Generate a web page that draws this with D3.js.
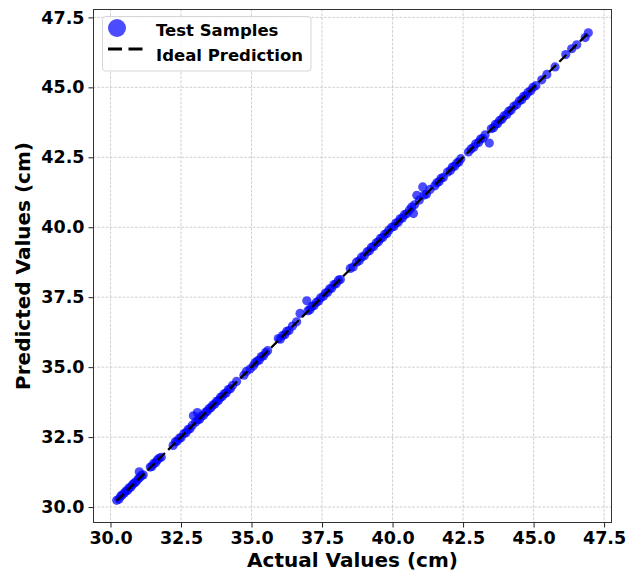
<!DOCTYPE html>
<html>
<head>
<meta charset="utf-8">
<script src="https://cdn.jsdelivr.net/npm/d3@7"></script>
<style>
  body { margin: 0; background: #fff; }
  text { font-family: "DejaVu Sans", sans-serif; font-weight: bold; }
</style>
</head>
<body>
<div id="chart"></div>
<script>
// Actual measured values (cm)
const actualValues = [
  30.22, 30.30, 30.36, 30.41, 30.49, 30.55, 30.61, 30.66, 30.72, 30.78,
  30.84, 30.91, 30.98, 31.02, 31.04, 31.10, 31.16, 31.41, 31.47, 31.53,
  31.60, 31.66, 31.72, 31.80, 32.22, 32.30, 32.36, 32.44, 32.50, 32.60,
  32.68, 32.75, 32.82, 32.90, 32.94, 33.02, 33.08, 33.10, 33.16, 33.22,
  33.30, 33.37, 33.43, 33.50, 33.56, 33.62, 33.70, 33.76, 33.83, 33.90,
  33.96, 34.03, 34.10, 34.18, 34.25, 34.33, 34.47, 34.73, 34.82, 34.95,
  35.06, 35.12, 35.20, 35.28, 35.35, 35.42, 35.50, 35.57, 35.95, 36.02,
  36.10, 36.18, 36.25, 36.33, 36.45, 36.60, 36.72, 36.96, 37.00, 37.07,
  37.14, 37.22, 37.30, 37.38, 37.45, 37.55, 37.62, 37.70, 37.77, 37.84,
  37.92, 38.00, 38.08, 38.15, 38.50, 38.60, 38.72, 38.82, 38.90, 39.00,
  39.10, 39.18, 39.25, 39.33, 39.42, 39.50, 39.57, 39.65, 39.72, 39.80,
  39.87, 39.97, 40.05, 40.12, 40.20, 40.27, 40.35, 40.42, 40.50, 40.60,
  40.68, 40.74, 40.78, 40.86, 40.95, 41.07, 41.12, 41.20, 41.33, 41.50,
  41.57, 41.65, 41.72, 41.80, 41.95, 42.05, 42.12, 42.20, 42.28, 42.35,
  42.42, 42.69, 42.78, 42.88, 42.95, 43.05, 43.12, 43.20, 43.28, 43.43,
  43.50, 43.58, 43.65, 43.72, 43.80, 43.88, 43.95, 44.05, 44.12, 44.20,
  44.30, 44.40, 44.50, 44.58, 44.65, 44.72, 44.80, 44.90, 44.98, 45.08,
  45.29, 45.47, 45.76, 46.14, 46.35, 46.53, 46.83, 46.94
];

// Model predictions (cm), same order as actualValues
const predictedValues = [
  30.24, 30.28, 30.39, 30.43, 30.50, 30.57, 30.60, 30.69, 30.71, 30.80,
  30.86, 30.90, 31.00, 31.26, 31.06, 31.13, 31.15, 31.43, 31.45, 31.56,
  31.58, 31.68, 31.74, 31.78, 32.20, 32.33, 32.35, 32.46, 32.48, 32.62,
  32.66, 32.77, 32.80, 32.92, 33.26, 33.04, 33.38, 33.12, 33.14, 33.25,
  33.28, 33.39, 33.42, 33.52, 33.55, 33.64, 33.68, 33.78, 33.81, 33.92,
  33.95, 34.05, 34.08, 34.20, 34.23, 34.35, 34.49, 34.71, 34.85, 34.93,
  35.04, 35.15, 35.22, 35.26, 35.38, 35.40, 35.52, 35.59, 36.02, 36.00,
  36.13, 36.16, 36.28, 36.31, 36.47, 36.62, 36.92, 37.37, 37.02, 37.05,
  37.17, 37.20, 37.32, 37.36, 37.48, 37.53, 37.65, 37.68, 37.80, 37.82,
  37.95, 37.98, 38.11, 38.13, 38.53, 38.58, 38.75, 38.80, 38.93, 38.98,
  39.12, 39.16, 39.28, 39.31, 39.44, 39.48, 39.60, 39.63, 39.75, 39.78,
  39.90, 40.00, 40.03, 40.15, 40.18, 40.30, 40.33, 40.45, 40.48, 40.62,
  40.72, 40.49, 40.80, 41.14, 40.97, 41.44, 41.15, 41.18, 41.35, 41.48,
  41.59, 41.63, 41.75, 41.78, 41.97, 42.03, 42.15, 42.18, 42.30, 42.33,
  42.45, 42.69, 42.80, 42.86, 42.98, 43.03, 43.15, 43.18, 43.30, 43.01,
  43.52, 43.56, 43.68, 43.70, 43.82, 43.86, 43.98, 44.03, 44.15, 44.18,
  44.32, 44.38, 44.52, 44.56, 44.68, 44.70, 44.82, 44.88, 45.00, 45.06,
  45.27, 45.46, 45.73, 46.17, 46.38, 46.52, 46.78, 46.95
];

// Tick values shared by both axes
const tickValues = [30.0, 32.5, 35.0, 37.5, 40.0, 42.5, 45.0, 47.5];

const legendLabels = ["Test Samples", "Ideal Prediction"];

const width = 635, height = 572;
const plot = { left: 93, right: 612, top: 9, bottom: 523 };

const points = actualValues.map((a, i) => ({ actual: a, predicted: predictedValues[i] }));

// Scales
let xScale = d3.scaleLinear().domain([29.38, 47.78]).range([plot.left, plot.right]);
let yScale = d3.scaleLinear().domain([29.43, 47.8]).range([plot.bottom, plot.top]);

let svg = d3.select("#chart")
  .append("svg")
  .attr("width", width)
  .attr("height", height);

// Grid lines
let grid = svg.append("g")
  .attr("stroke", "#bdbdbd")
  .attr("stroke-width", 0.7)
  .attr("stroke-dasharray", "2.8,1.4");

grid.selectAll(".vgrid")
  .data(tickValues)
  .enter().append("line")
  .attr("x1", d => xScale(d)).attr("x2", d => xScale(d))
  .attr("y1", plot.top).attr("y2", plot.bottom);

grid.selectAll(".hgrid")
  .data(tickValues)
  .enter().append("line")
  .attr("x1", plot.left).attr("x2", plot.right)
  .attr("y1", d => yScale(d)).attr("y2", d => yScale(d));

// Scatter points
svg.append("g")
  .selectAll("circle")
  .data(points)
  .enter().append("circle")
  .attr("cx", d => xScale(d.actual))
  .attr("cy", d => yScale(d.predicted))
  .attr("r", 4.6)
  .attr("fill", "blue")
  .attr("fill-opacity", 0.7);

// Ideal prediction line
let ext = d3.extent(actualValues);
svg.append("line")
  .attr("x1", xScale(ext[0])).attr("y1", yScale(ext[0]))
  .attr("x2", xScale(ext[1])).attr("y2", yScale(ext[1]))
  .attr("stroke", "black")
  .attr("stroke-width", 2.3)
  .attr("stroke-dasharray", "10,4.5");

// Axes
let xAxis = svg.append("g")
  .attr("transform", `translate(0,${plot.bottom})`)
  .call(d3.axisBottom(xScale).tickValues(tickValues).tickFormat(d3.format(".1f"))
    .tickSize(4.5).tickPadding(4));

let yAxis = svg.append("g")
  .attr("transform", `translate(${plot.left},0)`)
  .call(d3.axisLeft(yScale).tickValues(tickValues).tickFormat(d3.format(".1f"))
    .tickSize(4.5).tickPadding(4));

[xAxis, yAxis].forEach(ax => {
  ax.select(".domain").remove();
  ax.selectAll("text")
    .attr("font-size", 17.5)
    .attr("font-family", "DejaVu Sans")
    .attr("font-weight", "bold")
    .attr("fill", "black");
  ax.selectAll(".tick line").attr("stroke", "#222");
});

// Frame
svg.append("rect")
  .attr("x", plot.left + 0.5).attr("y", plot.top + 0.5)
  .attr("width", plot.right - plot.left - 1)
  .attr("height", plot.bottom - plot.top - 1)
  .attr("fill", "none")
  .attr("stroke", "#333")
  .attr("stroke-width", 1);

// Axis titles
svg.append("text")
  .attr("x", (plot.left + plot.right) / 2)
  .attr("y", 567)
  .attr("text-anchor", "middle")
  .attr("font-size", 20)
  .text("Actual Values (cm)");

svg.append("text")
  .attr("transform", `translate(30,${(plot.top + plot.bottom) / 2}) rotate(-90)`)
  .attr("text-anchor", "middle")
  .attr("font-size", 20)
  .text("Predicted Values (cm)");

// Legend
let legend = svg.append("g");
legend.append("rect")
  .attr("x", 102.5).attr("y", 16.5)
  .attr("width", 208.5).attr("height", 54.5)
  .attr("rx", 3)
  .attr("fill", "white").attr("fill-opacity", 0.8)
  .attr("stroke", "#d6d6d6");

legend.append("circle")
  .attr("cx", 117).attr("cy", 28)
  .attr("r", 9)
  .attr("fill", "blue").attr("fill-opacity", 0.7);

legend.append("line")
  .attr("x1", 108).attr("x2", 143)
  .attr("y1", 49).attr("y2", 49)
  .attr("stroke", "black")
  .attr("stroke-width", 3)
  .attr("stroke-dasharray", "14,6.5");

legend.selectAll(".label")
  .data(legendLabels)
  .enter().append("text")
  .attr("x", 156)
  .attr("y", (d, i) => 35.5 + i * 25.5)
  .attr("font-size", 16.5)
  .text(d => d);
</script>
</body>
</html>
